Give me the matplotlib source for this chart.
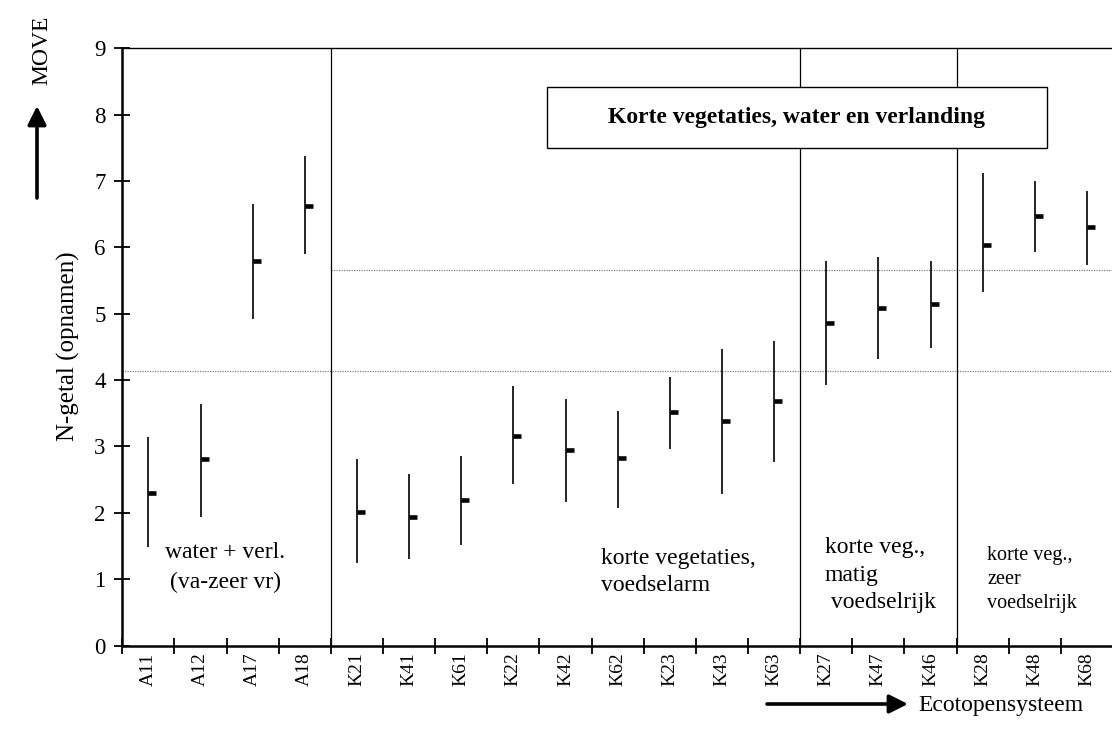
import matplotlib.pyplot as plt
from matplotlib.patches import Rectangle

plt.rcParams['font.family'] = ['Liberation Serif', 'DejaVu Serif']

# ecotopes (x axis) and N-getal per ecotope: high / low / mean
ecotopes = ['A11', 'A12', 'A17', 'A18', 'K21', 'K41', 'K61', 'K22', 'K42', 'K62',
            'K23', 'K43', 'K63', 'K27', 'K47', 'K46', 'K28', 'K48', 'K68']
high = [3.14, 3.64, 6.66, 7.38, 2.81, 2.59, 2.85, 3.91, 3.71, 3.54,
        4.05, 4.47, 4.59, 5.80, 5.85, 5.80, 7.12, 7.00, 6.85]
low = [1.48, 1.93, 4.92, 5.90, 1.24, 1.30, 1.52, 2.43, 2.17, 2.07,
       2.96, 2.29, 2.77, 3.92, 4.32, 4.49, 5.33, 5.93, 5.73]
mean = [2.30, 2.81, 5.79, 6.63, 2.01, 1.94, 2.19, 3.16, 2.95, 2.83,
        3.52, 3.38, 3.69, 4.86, 5.08, 5.15, 6.04, 6.47, 6.30]

group_bounds = [4, 13, 16]
lower_class = 4.13
upper_class = 5.66

fig = plt.figure(figsize=(11.12, 7.54), dpi=100)
ax = fig.add_axes([122.3 / 1112, 108.5 / 754, (1113 - 122.3) / 1112, 597.2 / 754])

x = [i + 0.5 for i in range(len(ecotopes))]
ax.vlines(x, low, high, color='black', lw=1.2, zorder=4)
ax.plot(x, mean, ls='none', marker=1, ms=5.5, mew=3.3, color='black', zorder=5)

for b in group_bounds:
    ax.axvline(b, color='black', lw=0.9, zorder=2)
ax.hlines(lower_class, 0, len(ecotopes), colors='#808080', lw=0.9, ls=(0, (1, 1)), zorder=1)
ax.hlines(upper_class, group_bounds[0], len(ecotopes), colors='#808080', lw=0.9,
          ls=(0, (1, 1)), zorder=1)

ax.set_xlim(0, len(ecotopes))
ax.set_ylim(0, 9)
ax.set_yticks(range(10))
ax.set_xticks(range(len(ecotopes) + 1))
ax.set_xticklabels([])
ax.set_xticks(x, minor=True)
ax.set_xticklabels(ecotopes, minor=True, rotation=90, fontsize=14)
ax.tick_params(axis='x', which='major', direction='inout', length=11, width=1.3)
ax.tick_params(axis='x', which='minor', length=0, pad=5)
ax.tick_params(axis='y', direction='inout', length=12, width=1.3, labelsize=16.5, pad=6)

ax.spines['right'].set_visible(False)
ax.spines['left'].set_linewidth(1.8)
ax.spines['bottom'].set_linewidth(1.8)
ax.spines['top'].set_linewidth(1.0)

# title box
ax.add_patch(Rectangle((0.429, 0.833), 0.504, 0.103, transform=ax.transAxes,
                       facecolor='white', edgecolor='black', lw=1.0, zorder=6))
ax.text(0.681, 0.8845, 'Korte vegetaties, water en verlanding', transform=ax.transAxes,
        ha='center', va='center', fontsize=17, fontweight='bold', zorder=7)

# group annotations
ax.text(1.97, 1.17, 'water + verl.\n(va-zeer vr)', ha='center', va='center',
        multialignment='center', fontsize=17, linespacing=1.55)
ax.text(9.19, 1.11, 'korte vegetaties,\nvoedselarm', ha='left', va='center',
        fontsize=17, linespacing=1.4)
ax.text(13.47, 1.06, 'korte veg.,\nmatig\n voedselrijk', ha='left', va='center',
        fontsize=17, linespacing=1.4)
ax.text(16.59, 1.00, 'korte veg.,\nzeer\nvoedselrijk', ha='left', va='center',
        fontsize=14.5, linespacing=1.35)

fig.text(68 / 1112, 1 - 346 / 754, 'N-getal (opnamen)', rotation=90,
         ha='center', va='center', fontsize=18)
fig.text(42 / 1112, 1 - 50 / 754, 'MOVE', rotation=90, ha='center', va='center', fontsize=17)

arrow = dict(arrowstyle='-|>', mutation_scale=28, lw=2.6, color='black',
             shrinkA=0, shrinkB=0)
ax.annotate('', xy=(37, 754 - 106), xytext=(37, 754 - 198),
            xycoords='figure pixels', textcoords='figure pixels', arrowprops=arrow)
ax.annotate('', xy=(908, 754 - 704), xytext=(767, 754 - 704),
            xycoords='figure pixels', textcoords='figure pixels', arrowprops=arrow)
fig.text(918 / 1112, 1 - 706 / 754, 'Ecotopensysteem', ha='left', va='center', fontsize=17)

fig.savefig('out.png', dpi=100)
